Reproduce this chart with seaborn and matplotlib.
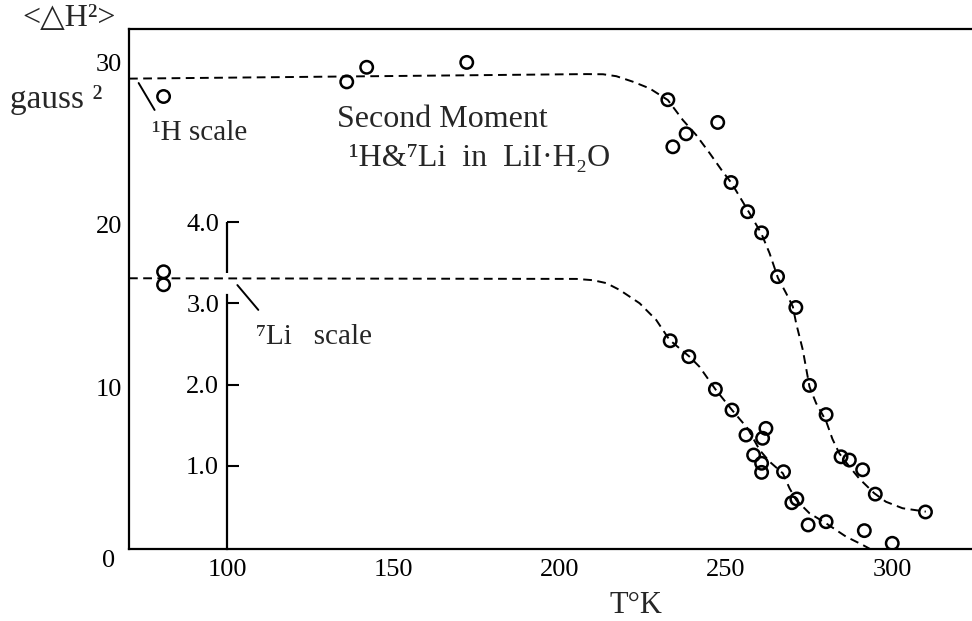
import matplotlib
matplotlib.use("Agg")
import matplotlib.pyplot as plt
import seaborn as sns
import pandas as pd
from matplotlib.transforms import ScaledTranslation

# ---- data (main <ΔH²> scale, gauss²) ----
h_temp = [80.8, 135.9, 141.9, 172.0, 232.5, 234.0, 238.0, 247.5, 251.5, 256.5,
          260.7, 265.5, 271.0, 275.1, 280.1, 284.6, 287.1, 291.1, 294.9, 310.0]
h_m2 = [27.9, 28.8, 29.7, 30.0, 27.7, 24.8, 25.6, 26.3, 22.6, 20.8,
        19.5, 16.8, 14.9, 10.1, 8.3, 5.7, 5.5, 4.9, 3.4, 2.3]

li_temp = [80.8, 80.8, 233.2, 238.8, 246.8, 251.8, 256.0, 262.0, 261.0, 258.3,
           260.7, 260.7, 267.3, 271.3, 269.8, 274.7, 280.1, 291.6, 300.0]
li_m2 = [17.1, 16.3, 12.85, 11.87, 9.86, 8.58, 7.04, 7.45, 6.84, 5.81,
         5.3, 4.74, 4.78, 3.1, 2.87, 1.5, 1.7, 1.15, 0.37]

# dashed guide curves
h_curve_t = [70.4, 208, 213, 217, 222, 227, 232.5, 237, 241, 245.1, 249, 251.7, 256.8, 260.6,
             263.1, 265.6, 268.1, 270.1, 271.1, 273.1, 275.1, 277.1, 280.1, 282.0,
             284.1, 287.1, 290.1, 294.6, 298.1, 303.1, 310.1]
h_curve_v = [29.0, 29.28, 29.27, 29.15, 28.81, 28.40, 27.68, 26.45, 25.53, 24.40, 23.27, 22.55,
             20.80, 19.47, 18.24, 16.73, 15.77, 14.95, 13.92, 12.28, 10.02, 9.0, 7.9, 6.8,
             5.9, 5.1, 4.35, 3.45, 2.93, 2.53, 2.32]
li_curve_t = [70.4, 205, 210, 214, 218, 224, 229, 233, 239, 242, 246.8, 251.8, 256.5, 260.1,
              263.1, 267.1, 269.1, 271.1, 275.1, 280.1, 286.1, 291.1, 293.5]
li_curve_v = [16.7, 16.66, 16.58, 16.4, 15.98, 15.16, 14.13, 12.90, 11.87, 11.25, 9.86, 8.58,
              7.45, 6.12, 5.40, 4.68, 3.76, 3.04, 2.22, 1.60, 0.78, 0.27, 0.0]

x_ticks = [100, 150, 200, 250, 300]
y_ticks = [0, 10, 20, 30]
li_ticks = [1.0, 2.0, 3.0, 4.0]

sns.set_style("white")
plt.rcParams["font.family"] = ["Liberation Serif", "DejaVu Serif", "DejaVu Sans"]

XMIN, XMAX, YMAX = 70.4, 323.7, 32.04
fig = plt.figure(figsize=(9.72, 6.21), dpi=100)
ax_rect = [129 / 972, (621 - 549.3) / 621, (972 - 129) / 972 - 0.001, (549.3 - 29.3) / 621]
ax = fig.add_axes(ax_rect)

dash = (0, (4.5, 2.8))
sns.lineplot(x=h_curve_t, y=h_curve_v, sort=False, estimator=None, color="black",
             lw=1.4, linestyle=dash, ax=ax)
sns.lineplot(x=li_curve_t, y=li_curve_v, sort=False, estimator=None, color="black",
             lw=1.4, linestyle=dash, ax=ax)

df_h = pd.DataFrame({"T": h_temp, "M2": h_m2})
df_li = pd.DataFrame({"T": li_temp, "M2": li_m2})
for d in (df_h, df_li):
    sns.scatterplot(data=d, x="T", y="M2", marker="o", s=80, facecolor="none",
                    edgecolor="black", linewidth=1.8, ax=ax, zorder=5)

ax.set_xlim(XMIN, XMAX)
ax.set_ylim(0, YMAX)
ax.set_ylabel("")

for s in ("left", "bottom", "top"):
    ax.spines[s].set_visible(True)
    ax.spines[s].set_linewidth(1.6)
    ax.spines[s].set_color("black")
ax.spines["right"].set_visible(False)

ax.set_xticks(x_ticks, [str(t) for t in x_ticks])
ax.set_yticks(y_ticks, [str(t) for t in y_ticks])
ax.tick_params(axis="both", direction="in", length=8.5, width=1.5, colors="black",
               labelsize=19)
ax.tick_params(axis="x", pad=7)
ax.tick_params(axis="y", pad=5)
xt = ax.xaxis.get_major_ticks()
xt[0].tick1line.set_visible(False)
xt[-1].tick1line.set_visible(False)
ylab0 = ax.yaxis.get_major_ticks()[0].label1
ylab0.set_transform(ylab0.get_transform() + ScaledTranslation(-0.07, -0.09, fig.dpi_scale_trans))

# ---- inner 7Li scale standing at T = 100 ----
li_off, li_fac = 0.15, 5.0
fwd = lambda y: (y - li_off) / li_fac
inv = lambda v: v * li_fac + li_off
x100 = ax_rect[0] + (100 - XMIN) / (XMAX - XMIN) * ax_rect[2]
ax2 = fig.add_axes([x100, ax_rect[1], 0.0001, ax_rect[3]])
ax2.patch.set_visible(False)
ax2.set_ylim(fwd(0), fwd(YMAX))
ax2.set_xticks([])
for s in ("top", "right", "bottom"):
    ax2.spines[s].set_visible(False)
ax2.spines["left"].set_visible(True)
ax2.spines["left"].set_color("black")
ax2.spines["left"].set_linewidth(1.6)
ax2.spines["left"].set_bounds(fwd(0), 3.1)
ax2.set_yticks(li_ticks, [f"{t:.1f}" for t in li_ticks])
ax2.tick_params(axis="y", direction="in", length=8.5, width=1.5, colors="black",
                labelsize=19, pad=6, left=True, labelleft=True)
ax.plot([100, 100], [inv(3.38), inv(4.0)], color="black", lw=1.6, solid_capstyle="butt")

# ---- texts ----
ax.text(133.0, 26.5, "Second Moment", fontsize=23, ha="left", va="center")
ax.text(136.6, 24.1, "¹H&⁷Li  in  LiI·H₂O", fontsize=23, ha="left", va="center")
ax.text(77.3, 25.65, "¹H scale", fontsize=21, ha="left", va="center")
ax.text(108.7, 13.08, "⁷Li   scale", fontsize=21, ha="left", va="center")
# leader lines
ax.plot([73.3, 78.1], [28.73, 27.07], color="black", lw=1.4)
ax.plot([103.0, 109.3], [16.28, 14.75], color="black", lw=1.4)

fig.text(22 / 972, 1 - 18 / 621, "<△H²>", fontsize=23, ha="left", va="center")
fig.text(10 / 972, 1 - 108 / 621, "gauss ²", fontsize=24, ha="left", va="baseline")
ax.set_xlabel("T°K", fontsize=22)
ax.xaxis.set_label_coords((637 - 129) / (972 - 129), -(591 - 549.3) / 520)

fig.savefig("out.png", dpi=100, facecolor="white")
